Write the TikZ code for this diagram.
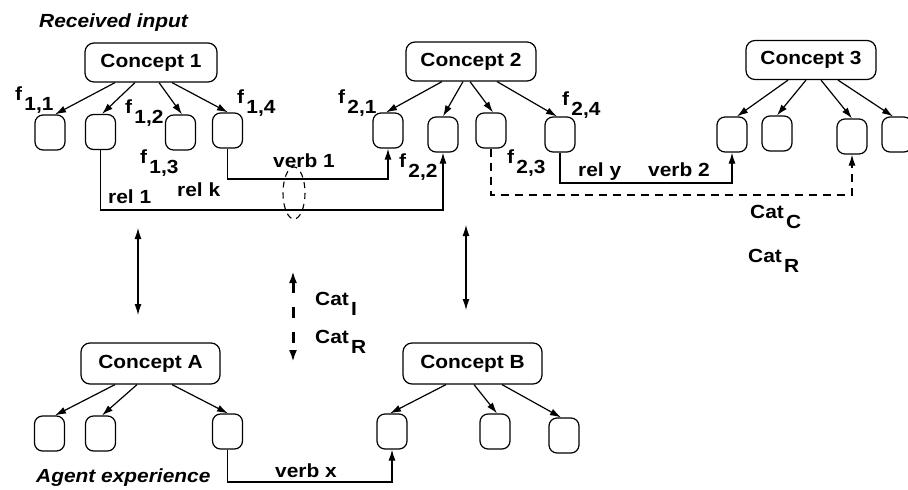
\documentclass[tikz,border=0pt]{standalone}
\usepackage{fontspec}
\setmainfont[FakeStretch=1.1]{Liberation Sans}
\usetikzlibrary{arrows.meta}
% label with a lowered index, e.g. f 1,1 or Cat C
\newcommand{\withsub}[2]{#1\hspace{0.12em}\raisebox{-0.55em}{#2}}
\begin{document}
\begin{tikzpicture}[x=1pt,y=-1pt,
  font=\fontsize{19}{22}\selectfont\bfseries,
  concept/.style={draw, line width=1.2pt, rounded corners=9pt, minimum height=39pt, inner sep=0pt},
  leaf/.style={draw, line width=1.2pt, rounded corners=8pt, minimum width=30pt, minimum height=35pt, inner sep=0pt},
  lab/.style={anchor=base west, inner sep=0pt},
  arr/.style={line width=1.2pt, -{Latex[length=11pt,width=7pt]}},
  biarr/.style={line width=1.2pt, {Latex[length=11pt,width=7pt]}-{Latex[length=11pt,width=7pt]}},
  link/.style={line width=1.2pt}]
\clip (0,0) rectangle (908,490);

% ---------- received input ----------
\node[lab, font=\fontsize{19}{22}\selectfont\bfseries\itshape] (recv) at (39,27) {Received input};

\node[concept, minimum width=132pt] (c1) at (151,62.5) {Concept 1};
\node[concept, minimum width=130pt] (c2) at (471,61.5) {Concept 2};
\node[concept, minimum width=130pt] (c3) at (811,60) {Concept 3};

\node[leaf] (b11) at (50,132.5) {};
\node[leaf] (b12) at (100.5,132) {};
\node[leaf] (b13) at (180.5,132.5) {};
\node[leaf] (b14) at (227.5,130.5) {};

\node[leaf] (b21) at (388,130.5) {};
\node[leaf] (b22) at (443,134.5) {};
\node[leaf] (b23) at (491,130.5) {};
\node[leaf] (b24) at (560,134.5) {};

\node[leaf] (b31) at (732,134.5) {};
\node[leaf] (b32) at (777,133.5) {};
\node[leaf] (b33) at (852,136.5) {};
\node[leaf] (b34) at (897,134.5) {};

\draw[arr] ([xshift=-36pt]c1.south) -- ([xshift=5pt]b11.north);
\draw[arr] ([xshift=-16pt]c1.south) -- ([xshift=1.5pt]b12.north);
\draw[arr] ([xshift=8pt]c1.south) -- ([xshift=1.5pt]b13.north);
\draw[arr] ([xshift=21pt]c1.south) -- ([xshift=0.5pt]b14.north);

\draw[arr] ([xshift=-29pt]c2.south) -- ([xshift=-2pt]b21.north);
\draw[arr] ([xshift=-8pt]c2.south) -- (b22.north);
\draw[arr] ([xshift=-1pt]c2.south) -- ([xshift=2pt]b23.north);
\draw[arr] ([xshift=26pt]c2.south) -- ([xshift=-3pt]b24.north);

\draw[arr] ([xshift=-23pt]c3.south) -- ([xshift=5pt]b31.north);
\draw[arr] ([xshift=-5pt]c3.south) -- (b32.north);
\draw[arr] ([xshift=10pt]c3.south) -- (b33.north);
\draw[arr] ([xshift=27pt]c3.south) -- ([xshift=-4pt]b34.north);

\node[lab] (f11) at (15,100) {\withsub{f}{1,1}};
\node[lab] (f12) at (125,113) {\withsub{f}{1,2}};
\node[lab] (f13) at (140,163) {\withsub{f}{1,3}};
\node[lab] (f14) at (237,103) {\withsub{f}{1,4}};
\node[lab] (f21) at (338,103) {\withsub{f}{2,1}};
\node[lab] (f22) at (399,167) {\withsub{f}{2,2}};
\node[lab] (f23) at (507,163) {\withsub{f}{2,3}};
\node[lab] (f24) at (562,105) {\withsub{f}{2,4}};

% relation links between features
\coordinate (lvlrel1) at (0,210);
\coordinate (lvlverb1) at (0,179);
\coordinate (lvlcat) at (0,195);
\coordinate (lvlrely) at (0,183);
\draw[arr] (b12.south) -- (b12.south |- lvlrel1) -| (b22.south);
\draw[arr] (b14.south) -- (b14.south |- lvlverb1) -| (b21.south);
\draw[arr, dash pattern=on 8pt off 6pt] (b23.south) -- (b23.south |- lvlcat) -| (b33.south);
\draw[arr] (b24.south) -- (b24.south |- lvlrely) -| (b31.south);

\draw[line width=1.1pt, dash pattern=on 6pt off 5pt] (294,193) ellipse [x radius=11, y radius=26];

\node[lab] (rel1) at (108,203) {rel 1};
\node[lab] (relk) at (177,196) {rel k};
\node[lab] (verb1) at (273,167) {verb 1};
\node[lab] (rely) at (578,176) {rel y};
\node[lab] (verb2) at (648,176) {verb 2};
\node[lab] (catc) at (750,218) {\withsub{Cat}{C}};
\node[lab] (catr1) at (748,262) {\withsub{Cat}{R}};

% ---------- correspondences ----------
\coordinate (lu) at (138,228);
\coordinate (ld) at (138,315);
\coordinate (ru) at (466,225);
\coordinate (rd) at (466,310);
\coordinate (mu) at (293,271);
\coordinate (md) at (293,362);
\draw[biarr] (lu) -- (ld);
\draw[biarr] (ru) -- (rd);
\draw[line width=3pt, dash pattern=on 11pt off 14pt,
      {Latex[length=12pt,width=8pt]}-{Latex[length=12pt,width=8pt]}] (mu) -- (md);
\node[lab] (cati) at (315,305) {\withsub{Cat}{I}};
\node[lab] (catr2) at (315,343) {\withsub{Cat}{R}};

% ---------- agent experience ----------
\node[concept, minimum width=139pt, minimum height=41pt] (ca) at (150.5,363.5) {Concept A};
\node[concept, minimum width=139pt, minimum height=41pt] (cb) at (472.5,363.5) {Concept B};

\node[leaf] (ba1) at (49.5,433.5) {};
\node[leaf] (ba2) at (100.5,433.5) {};
\node[leaf] (ba3) at (227.5,431.5) {};
\node[leaf] (bb1) at (392,431.5) {};
\node[leaf] (bb2) at (495,431.5) {};
\node[leaf] (bb3) at (564,435.5) {};

\draw[arr] ([xshift=-35.5pt]ca.south) -- ([xshift=5.5pt]ba1.north);
\draw[arr] ([xshift=-13.5pt]ca.south) -- ([xshift=1.5pt]ba2.north);
\draw[arr] ([xshift=21.5pt]ca.south) -- ([xshift=0.5pt]ba3.north);
\draw[arr] ([xshift=-26.5pt]cb.south) -- ([xshift=-2pt]bb1.north);
\draw[arr] ([xshift=1.5pt]cb.south) -- ([xshift=2pt]bb2.north);
\draw[arr] ([xshift=29.5pt]cb.south) -- ([xshift=-3pt]bb3.north);

\coordinate (lvlverbx) at (0,482);
\draw[arr] (ba3.south) -- (ba3.south |- lvlverbx) -| (bb1.south);
\node[lab] (verbx) at (275,477) {verb x};

\node[lab, font=\fontsize{19}{22}\selectfont\bfseries\itshape] (agent) at (36,482) {Agent experience};
\end{tikzpicture}
\end{document}
